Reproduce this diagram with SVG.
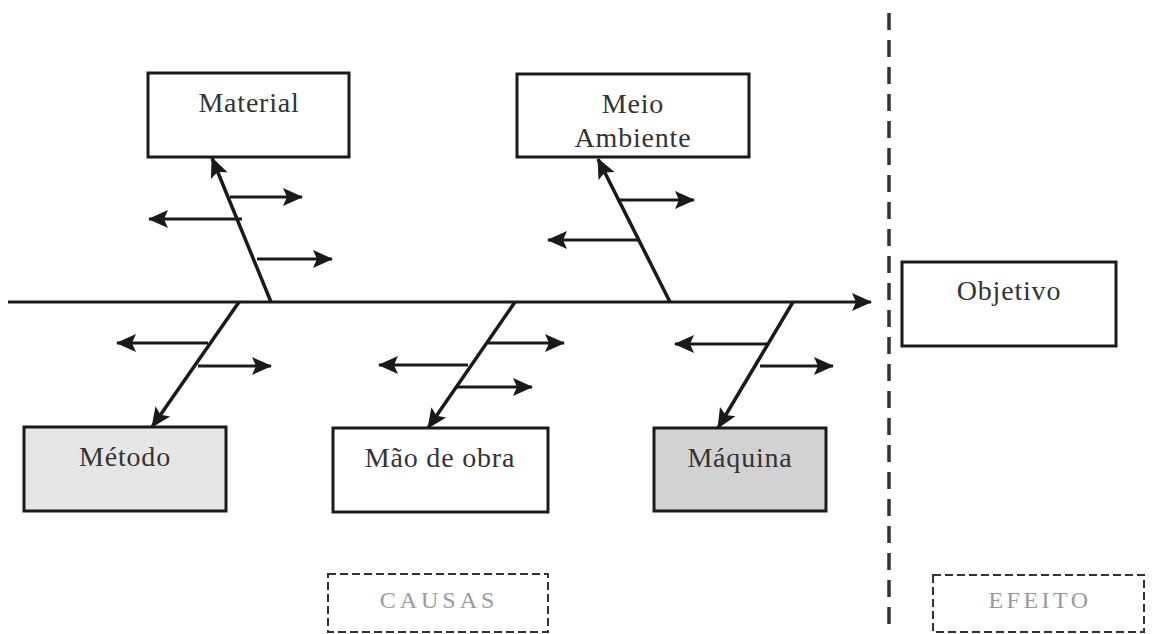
<svg xmlns="http://www.w3.org/2000/svg" width="1154" height="634" viewBox="0 0 1154 634">
<style>
.box{fill:#fff;stroke:#1a1a1a;stroke-width:3}
.lbl{font-family:'Liberation Serif','Times New Roman',Times,serif;font-size:28px;fill:#333;text-anchor:middle;letter-spacing:0.8px}
.bone{stroke:#1a1a1a;stroke-width:3.5;fill:none}
.sub{stroke:#1a1a1a;stroke-width:3;fill:none;marker-end:url(#ah)}
.dbox{fill:#fff;stroke:#333;stroke-width:2;stroke-dasharray:8 4}
.cap{font-family:'Liberation Serif','Times New Roman',Times,serif;font-size:24px;fill:#9a9a9a;text-anchor:middle}
</style>
<defs>
<marker id="ah" markerUnits="userSpaceOnUse" markerWidth="24" markerHeight="20" refX="19" refY="9" orient="auto" overflow="visible">
<path d="M0,0 L20,9 L0,18 L4,9 z" fill="#1a1a1a"/>
</marker>
</defs>
<rect width="1154" height="634" fill="#fff"/>

<g id="divider">
<line x1="889" y1="13" x2="889" y2="634" stroke="#333" stroke-width="3.5" stroke-dasharray="17 10"/>
</g>

<g id="connectors">
<line x1="8" y1="302" x2="871" y2="302" class="sub"/>
<line x1="271" y1="302" x2="212" y2="158" class="bone" marker-end="url(#ah)"/>
<line x1="230" y1="197" x2="302" y2="197" class="sub"/>
<line x1="242" y1="219" x2="149" y2="219" class="sub"/>
<line x1="257" y1="259" x2="332" y2="259" class="sub"/>
<line x1="670" y1="302" x2="598" y2="159" class="bone" marker-end="url(#ah)"/>
<line x1="617" y1="200" x2="694" y2="200" class="sub"/>
<line x1="640" y1="240" x2="548" y2="240" class="sub"/>
<line x1="239" y1="302" x2="152" y2="427" class="bone" marker-end="url(#ah)"/>
<line x1="208" y1="343" x2="117" y2="343" class="sub"/>
<line x1="198" y1="366" x2="271" y2="366" class="sub"/>
<line x1="515" y1="302" x2="428" y2="428" class="bone" marker-end="url(#ah)"/>
<line x1="488" y1="343" x2="564" y2="343" class="sub"/>
<line x1="468" y1="365" x2="379" y2="365" class="sub"/>
<line x1="457" y1="387" x2="532" y2="387" class="sub"/>
<line x1="793" y1="302" x2="718" y2="428" class="bone" marker-end="url(#ah)"/>
<line x1="768" y1="344" x2="675" y2="344" class="sub"/>
<line x1="760" y1="366" x2="833" y2="366" class="sub"/>
</g>

<g id="material">
<rect x="148" y="73" width="201" height="84" class="box"/>
<text x="249" y="112" class="lbl">Material</text>
</g>
<g id="meio-ambiente">
<rect x="517" y="74" width="232" height="83" class="box"/>
<text x="633" y="113" class="lbl">Meio</text>
<text x="633" y="147" class="lbl">Ambiente</text>
</g>
<g id="metodo">
<rect x="24" y="427" width="202" height="84" class="box" style="fill:#e6e6e6"/>
<text x="125" y="466" class="lbl">Método</text>
</g>
<g id="mao-de-obra">
<rect x="333" y="428" width="215" height="84" class="box"/>
<text x="440" y="467" class="lbl">Mão de obra</text>
</g>
<g id="maquina">
<rect x="654" y="428" width="172" height="83" class="box" style="fill:#d2d2d2"/>
<text x="740" y="467" class="lbl">Máquina</text>
</g>
<g id="objetivo">
<rect x="902" y="262" width="214" height="84" class="box"/>
<text x="1009" y="300" class="lbl">Objetivo</text>
</g>
<g id="causas">
<rect x="328" y="574" width="220" height="58" class="dbox"/>
<text x="439" y="608" class="cap" letter-spacing="4">CAUSAS</text>
</g>
<g id="efeito">
<rect x="933" y="575" width="211" height="57" class="dbox"/>
<text x="1040" y="608" class="cap" letter-spacing="3.5">EFEITO</text>
</g>
</svg>
